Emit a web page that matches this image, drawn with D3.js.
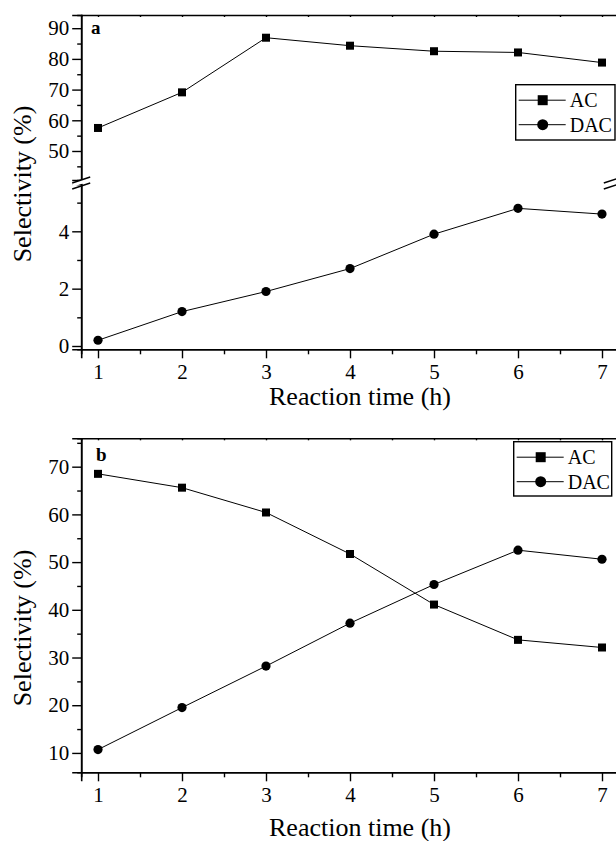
<!DOCTYPE html>
<html>
<head>
<meta charset="utf-8">
<script src="https://cdn.jsdelivr.net/npm/d3@7"></script>
<style>
  html, body { margin: 0; padding: 0; background: #fff; }
  svg { display: block; }
  svg text { font-family: "Liberation Serif", "Times New Roman", Times, "DejaVu Serif", serif !important; fill: #000; }
</style>
</head>
<body>
<div id="chart"></div>
<script>
// reaction time (h)
const hours = [1, 2, 3, 4, 5, 6, 7];
const xTicks = [1, 2, 3, 4, 5, 6, 7];
const xMinor = [1.5, 2.5, 3.5, 4.5, 5.5, 6.5];

// panel a : selectivity (%)
const acA = [57.5, 69.1, 86.9, 84.3, 82.5, 82.1, 78.8];
const dacA = [0.2, 1.2, 1.9, 2.7, 3.9, 4.8, 4.6];
const aUpperTicks = [50, 60, 70, 80, 90];
const aUpperMinor = [45, 55, 65, 75, 85];
const aLowerTicks = [0, 2, 4];
const aLowerMinor = [1, 3, 5];

// panel b : selectivity (%)
const acB = [68.5, 65.6, 60.4, 51.7, 41.1, 33.7, 32.1];
const dacB = [10.7, 19.5, 28.2, 37.2, 45.3, 52.5, 50.6];
const bTicks = [10, 20, 30, 40, 50, 60, 70];
const bMinor = [15, 25, 35, 45, 55, 65, 75];

const seriesNames = ["AC", "DAC"];

const width = 616, height = 841;
const left = 81.2, right = 618.8;
const serif = "'Liberation Serif', 'Times New Roman', Times, 'DejaVu Serif', serif";

const svg = d3.select("#chart").append("svg")
  .attr("width", width)
  .attr("height", height)
  .attr("font-family", serif);

const x = d3.scaleLinear().domain([0.8, 7.2]).range([left, right]);

function styleAxis(sel) {
  sel.attr("font-family", serif);
  sel.select(".domain").attr("stroke", "#000").attr("stroke-width", 1.6);
  sel.selectAll(".tick line").attr("stroke", "#000").attr("stroke-width", 1.4);
  sel.selectAll(".tick text").attr("fill", "#000");
}

function xAxes(g, top, bottom, titleGap) {
  // bottom axis, ticks out
  g.append("g")
    .attr("transform", `translate(0,${bottom})`)
    .call(d3.axisBottom(x).tickValues(xMinor).tickSize(5).tickFormat(""))
    .call(styleAxis);
  g.append("g")
    .attr("transform", `translate(0,${bottom})`)
    .call(d3.axisBottom(x).tickValues(xTicks).tickSize(9).tickPadding(6).tickFormat(d3.format("d")))
    .call(styleAxis)
    .selectAll("text").attr("font-size", 21);
  // top axis, tiny inward ticks
  g.append("g")
    .attr("transform", `translate(0,${top})`)
    .call(d3.axisBottom(x).tickValues(xTicks.concat(xMinor)).tickSize(2).tickFormat(""))
    .call(styleAxis);
  g.append("text")
    .attr("x", 360)
    .attr("y", bottom + titleGap)
    .attr("text-anchor", "middle")
    .attr("font-size", 26)
    .text("Reaction time (h)");
}

function yAxis(g, scale, major, minor) {
  g.append("g")
    .attr("transform", `translate(${left},0)`)
    .call(d3.axisLeft(scale).tickValues(minor).tickSize(4).tickFormat(""))
    .call(styleAxis);
  g.append("g")
    .attr("transform", `translate(${left},0)`)
    .call(d3.axisLeft(scale).tickValues(major).tickSize(9).tickPadding(3).tickFormat(d3.format("d")))
    .call(styleAxis)
    .selectAll("text").attr("font-size", 21);
  // right axis line, no ticks
  g.append("line")
    .attr("x1", right).attr("x2", right)
    .attr("y1", scale.range()[0]).attr("y2", scale.range()[1])
    .attr("stroke", "#000").attr("stroke-width", 1.6);
}

function drawSeries(g, scale, values, shape) {
  const line = d3.line().x((d, i) => x(hours[i])).y(d => scale(d));
  g.append("path")
    .attr("d", line(values))
    .attr("fill", "none")
    .attr("stroke", "#000")
    .attr("stroke-width", 1);
  const pts = g.selectAll(null).data(values).enter();
  if (shape === "square") {
    pts.append("rect")
      .attr("x", (d, i) => x(hours[i]) - 4)
      .attr("y", d => scale(d) - 4)
      .attr("width", 8).attr("height", 8)
      .attr("fill", "#000");
  } else {
    pts.append("circle")
      .attr("cx", (d, i) => x(hours[i]))
      .attr("cy", d => scale(d))
      .attr("r", 4.6)
      .attr("fill", "#000");
  }
}

function legend(g, x0, y0, w, h) {
  g.append("rect")
    .attr("x", x0).attr("y", y0).attr("width", w).attr("height", h)
    .attr("fill", "#fff").attr("stroke", "#000").attr("stroke-width", 1.4);
  seriesNames.forEach((name, i) => {
    const cy = y0 + 15.5 + i * 24.5;
    g.append("line")
      .attr("x1", x0 + 3).attr("x2", x0 + 50)
      .attr("y1", cy).attr("y2", cy)
      .attr("stroke", "#000").attr("stroke-width", 1);
    if (i === 0) {
      g.append("rect").attr("x", x0 + 22).attr("y", cy - 5)
        .attr("width", 10).attr("height", 10).attr("fill", "#000");
    } else {
      g.append("circle").attr("cx", x0 + 27).attr("cy", cy).attr("r", 5.5).attr("fill", "#000");
    }
    g.append("text")
      .attr("x", x0 + 54).attr("y", cy + 7)
      .attr("font-size", 20)
      .text(name);
  });
}

function breakMark(g, cx, cy) {
  // white gap with two slanted strokes
  g.append("polygon")
    .attr("points", [[cx - 9, cy + 1], [cx + 9, cy - 5], [cx + 9, cy - 1], [cx - 9, cy + 5]].join(" "))
    .attr("fill", "#fff");
  [cy - 2, cy + 4].forEach(yy => {
    g.append("line")
      .attr("x1", cx - 9).attr("y1", yy + 3)
      .attr("x2", cx + 9).attr("y2", yy - 3)
      .attr("stroke", "#000").attr("stroke-width", 1.4);
  });
}

// ---------- panel a ----------
const topA = 15, bottomA = 349.3, breakA = 182;
const yAup = d3.scaleLinear().domain([40.55, 94.3]).range([breakA - 2, topA]);
const yAlo = d3.scaleLinear().domain([-0.115, 5.65]).range([bottomA, breakA + 2]);

const ga = svg.append("g");
yAxis(ga, yAup, aUpperTicks, aUpperMinor);
yAxis(ga, yAlo, aLowerTicks, aLowerMinor);
xAxes(ga, topA, bottomA, 56);
breakMark(ga, left, breakA);
breakMark(ga, right - 6, breakA);
drawSeries(ga, yAup, acA, "square");
drawSeries(ga, yAlo, dacA, "circle");
legend(ga, 515.7, 84.7, 99.3, 55.3);
ga.append("text").attr("x", 91).attr("y", 34)
  .attr("font-size", 19).attr("font-weight", "bold").text("a");
ga.append("text")
  .attr("transform", `translate(31,${184}) rotate(-90)`)
  .attr("text-anchor", "middle")
  .attr("font-size", 26)
  .text("Selectivity (%)");

// ---------- panel b ----------
const topB = 438.3, bottomB = 772.3;
const yB = d3.scaleLinear().domain([5.94, 75.95]).range([bottomB, topB]);

const gb = svg.append("g");
yAxis(gb, yB, bTicks, bMinor);
xAxes(gb, topB, bottomB, 64);
drawSeries(gb, yB, acB, "square");
drawSeries(gb, yB, dacB, "circle");
legend(gb, 513.7, 441.7, 98, 54.3);
gb.append("text").attr("x", 96).attr("y", 461)
  .attr("font-size", 19).attr("font-weight", "bold").text("b");
gb.append("text")
  .attr("transform", `translate(31,${628}) rotate(-90)`)
  .attr("text-anchor", "middle")
  .attr("font-size", 26)
  .text("Selectivity (%)");
</script>
</body>
</html>
